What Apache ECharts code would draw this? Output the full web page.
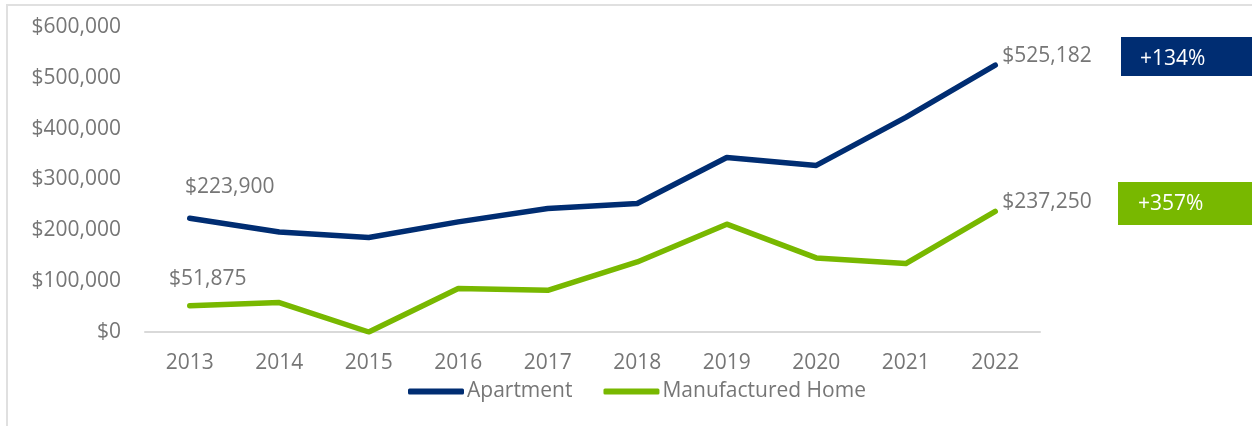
<!DOCTYPE html>
<html>
<head>
<meta charset="utf-8">
<script src="https://cdn.jsdelivr.net/npm/echarts@6/dist/echarts.min.js"></script>
<style>
  html, body { margin: 0; padding: 0; background: #fff; }
  #chart { width: 1252px; height: 426px; }
</style>
</head>
<body>
<div id="chart"></div>
<script>
const years = ['2013', '2014', '2015', '2016', '2017', '2018', '2019', '2020', '2021', '2022'];
const apartment = [223900, 196900, 185900, 216600, 243000, 252800, 343400, 327700, 422200, 525182];
const manufacturedHome = [51875, 57900, 0, 85500, 82100, 137800, 212100, 145700, 134700, 237250];
const yTicks = [0, 100000, 200000, 300000, 400000, 500000, 600000];
const growthLabels = ['+134%', '+357%'];

const navy = '#002d72';
const green = '#78b800';
const grey = '#767676';
const font = 'Open Sans';

function money(v) {
    return '$' + Math.round(v).toLocaleString('en-US');
}

// only first and last points get a value label
function withLabels(values, firstOffset) {
    return values.map((v, i) => {
        if (i === 0) {
            return {value: v, label: {show: true, position: 'top', offset: firstOffset}};
        }
        if (i === values.length - 1) {
            return {value: v, label: {show: true, position: 'right', offset: [2, -9]}};
        }
        return v;
    });
}

const labelStyle = {
    show: false,
    color: grey,
    fontSize: 21,
    fontFamily: font,
    formatter: p => money(p.value)
};

const chart = echarts.init(document.getElementById('chart'));
chart.setOption({
    animation: false,
    textStyle: {fontFamily: font},
    grid: {left: 145, right: 212, top: 27, bottom: 94},
    legend: {
        left: 403,
        top: 376,
        itemWidth: 56,
        itemHeight: 6,
        itemGap: 31,
        icon: 'roundRect',
        textStyle: {color: grey, fontSize: 21, fontFamily: font, padding: [0, 0, 0, -2]},
        data: ['Apartment', 'Manufactured Home']
    },
    xAxis: {
        type: 'category',
        data: years,
        boundaryGap: true,
        axisLine: {lineStyle: {color: '#d9d9d9', width: 2}},
        axisTick: {show: false},
        axisLabel: {color: grey, fontSize: 21, fontFamily: font, margin: 21}
    },
    yAxis: {
        type: 'value',
        min: yTicks[0],
        max: yTicks[yTicks.length - 1],
        interval: 100000,
        splitLine: {show: false},
        axisLine: {show: false},
        axisTick: {show: false},
        axisLabel: {color: grey, fontSize: 21, fontFamily: font, margin: 24, formatter: v => money(v)}
    },
    series: [
        {
            name: 'Apartment',
            type: 'line',
            data: withLabels(apartment, [40, -16]),
            symbol: 'circle',
            symbolSize: 0,
            lineStyle: {color: navy, width: 5.5, cap: 'round', join: 'round'},
            itemStyle: {color: navy},
            label: labelStyle
        },
        {
            name: 'Manufactured Home',
            type: 'line',
            data: withLabels(manufacturedHome, [18, -11]),
            symbol: 'circle',
            symbolSize: 0,
            lineStyle: {color: green, width: 5.5, cap: 'round', join: 'round'},
            itemStyle: {color: green},
            label: labelStyle
        }
    ],
    graphic: [
        {
            type: 'rect',
            silent: true,
            shape: {x: 7, y: 5, width: 1300, height: 480},
            style: {fill: 'none', stroke: '#e0e0e0', lineWidth: 2}
        },
        {
            type: 'rect',
            shape: {x: 1121, y: 37, width: 140, height: 39},
            style: {fill: navy}
        },
        {
            type: 'text',
            x: 1140,
            y: 59,
            style: {text: growthLabels[0], fill: '#fff', fontSize: 21, fontFamily: font, verticalAlign: 'middle'}
        },
        {
            type: 'rect',
            shape: {x: 1118, y: 182, width: 140, height: 43},
            style: {fill: green}
        },
        {
            type: 'text',
            x: 1138,
            y: 204,
            style: {text: growthLabels[1], fill: '#fff', fontSize: 21, fontFamily: font, verticalAlign: 'middle'}
        }
    ]
});
</script>
</body>
</html>
